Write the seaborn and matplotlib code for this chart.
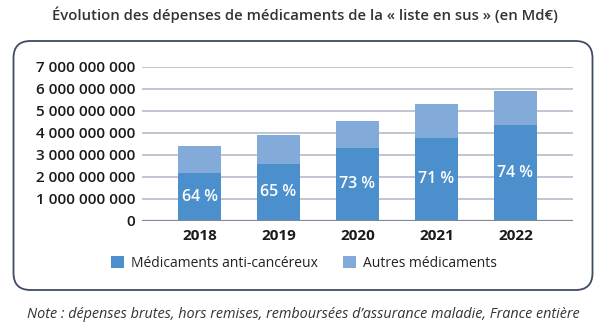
import matplotlib
matplotlib.use("Agg")
import matplotlib.pyplot as plt
import seaborn as sns
import pandas as pd
from matplotlib.patches import FancyBboxPatch, Patch
from matplotlib.transforms import IdentityTransform

# ---- data ----
years = ["2018", "2019", "2020", "2021", "2022"]
anticancer = [2.17e9, 2.55e9, 3.30e9, 3.76e9, 4.35e9]
total = [3.40e9, 3.90e9, 4.53e9, 5.31e9, 5.91e9]
share_labels = ["64 %", "65 %", "73 %", "71 %", "74 %"]
ytick_values = [0, 1e9, 2e9, 3e9, 4e9, 5e9, 6e9, 7e9]
ytick_labels = ["0", "1 000 000 000", "2 000 000 000", "3 000 000 000",
                "4 000 000 000", "5 000 000 000", "6 000 000 000", "7 000 000 000"]
series_names = ["Médicaments anti-cancéreux", "Autres médicaments"]
title = "Évolution des dépenses de médicaments de la « liste en sus » (en Md€)"
note = "Note : dépenses brutes, hors remises, remboursées d’assurance maladie, France entière"

df = pd.DataFrame({"year": years, "anti": anticancer, "total": total})

sns.set_theme(style="white")
plt.rcParams["font.family"] = ["Open Sans", "DejaVu Sans"]

C_DARK = "#4b8fcc"
C_LIGHT = "#83abd9"
W, H = 610, 324
fig = plt.figure(figsize=(W / 100, H / 100), dpi=100)

ax_l, ax_r, ax_b, ax_t = 142, 573, 220.5, 66.7
ax = fig.add_axes([ax_l / W, 1 - ax_b / H, (ax_r - ax_l) / W, (ax_b - ax_t) / H])

sns.barplot(data=df, x="year", y="total", color=C_LIGHT, width=0.54,
            saturation=1, linewidth=0, ax=ax, zorder=3)
sns.barplot(data=df, x="year", y="anti", color=C_DARK, width=0.54,
            saturation=1, linewidth=0, ax=ax, zorder=4)

ax.set_xlim(-0.73, 4.73)
ax.set_ylim(0, 7e9)
ax.set_yticks(ytick_values)
ax.set_yticklabels(ytick_labels)
ax.set_xlabel("")
ax.set_ylabel("")
for s in ax.spines.values():
    s.set_visible(False)
ax.grid(False)
for v in ytick_values[1:]:
    ax.axhline(v, color="#b4bccb", lw=1.2, zorder=1)
ax.axhline(0, color="#7f8899", lw=1.6, zorder=5)

ax.tick_params(axis="y", length=0, pad=5, labelsize=11, labelcolor="#1a1a1a")
ax.tick_params(axis="x", length=0, pad=6, labelsize=11, labelcolor="#1a1a1a")
for lbl in ax.get_yticklabels():
    lbl.set_fontweight("semibold")
for lbl in ax.get_xticklabels():
    lbl.set_fontweight("bold")

for i, (a, lab) in enumerate(zip(anticancer, share_labels)):
    ax.text(i, a / 2, lab, ha="center", va="center", color="white",
            fontsize=11.5, fontweight="semibold", zorder=6)

# title
fig.text(304.5 / W, 1 - 15 / H, title, ha="center", va="center",
         fontsize=10.75, fontweight="semibold", color="#333333")

# rounded box
box = FancyBboxPatch((13.5, H - 290), 579, 249,
                     boxstyle="round,pad=0,rounding_size=17",
                     transform=IdentityTransform(), fill=False,
                     ec="#3f4b63", lw=1.3)
fig.add_artist(box)

# legend
handles = [Patch(facecolor=C_DARK, edgecolor="none"),
           Patch(facecolor=C_LIGHT, edgecolor="none")]
fig.legend(handles, series_names, loc="center", ncol=2,
           bbox_to_anchor=(304 / W, 1 - 263.5 / H), frameon=False,
           fontsize=10, handlelength=0.95, handleheight=0.95,
           handletextpad=0.5, columnspacing=1.8, labelcolor="#222222")

# note
fig.text(303.5 / W, 1 - 315 / H, note, ha="center", va="center",
         fontsize=10.4, fontstyle="italic", color="#333333")

fig.savefig("out.png", dpi=100)
